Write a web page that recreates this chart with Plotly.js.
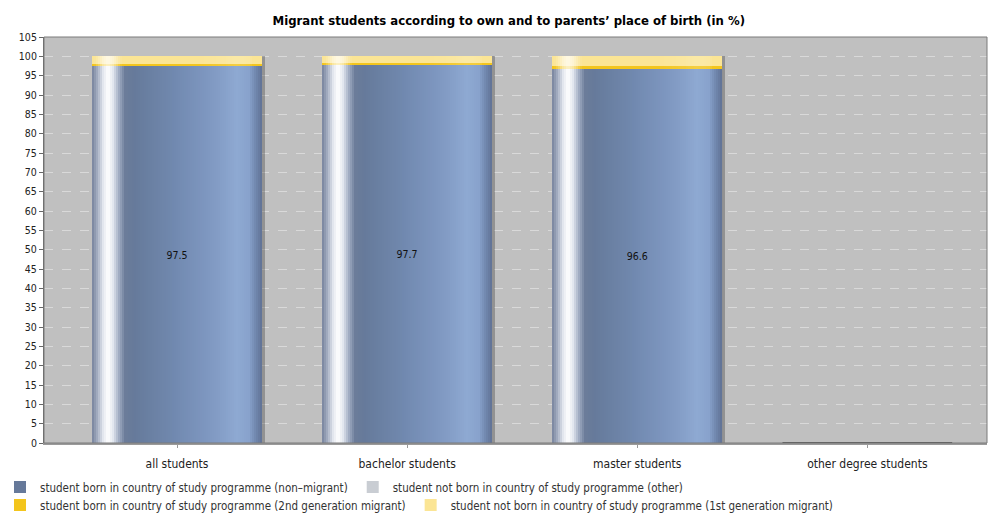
<!DOCTYPE html>
<html>
<head>
<meta charset="utf-8">
<script src="https://cdn.plot.ly/plotly-3.0.1.min.js"></script>
<style>html,body{margin:0;padding:0;background:#fff;}#chart{width:988px;height:513px;}</style>
</head>
<body>
<div id="chart"></div>
<script>
// ---- data ----
const categories = ['all students', 'bachelor students', 'master students', 'other degree students'];
const nonMigrant = [97.5, 97.7, 96.6, 0];
const otherNotBorn = [0.1, 0.1, 0.2, 0];
const secondGen = [0.4, 0.4, 0.7, 0];
const firstGen = [2.0, 1.8, 2.5, 0];
const seriesNames = [
  'student born in country of study programme (non–migrant)',
  'student not born in country of study programme (other)',
  'student born in country of study programme (2nd generation migrant)',
  'student not born in country of study programme (1st generation migrant)'
];
const yTicks = [0,5,10,15,20,25,30,35,40,45,50,55,60,65,70,75,80,85,90,95,100,105];

// ---- styling ----
const FONT = 'DejaVu Sans Condensed, DejaVu Sans, sans-serif';
const BW = 0.7375;          // bar width in category units
const OFF = -BW / 2;
const PX = BW / 170;        // one pixel of bar width in category units

const sum = (...arrs) => arrs[0].map((_, i) => arrs.reduce((s, a) => s + a[i], 0));
const base2 = sum(nonMigrant);
const base3 = sum(nonMigrant, otherNotBorn);
const base4 = sum(nonMigrant, otherNotBorn, secondGen);
const total = sum(nonMigrant, otherNotBorn, secondGen, firstGen);
const band = sum(otherNotBorn, secondGen, firstGen);

const traces = [];

// soft shadow to the right of each bar
traces.push({type:'bar', x:categories, y:total, base:0, width:BW, offset:OFF + 3*PX,
  marker:{color:'rgba(60,60,60,0.35)'}, showlegend:false, hoverinfo:'skip'});

// main series (legend + base colours)
traces.push({type:'bar', name:seriesNames[0], legend:'legend', x:categories, y:nonMigrant, base:0, width:BW, offset:OFF,
  marker:{color:'#66799a', line:{color:'#505050', width:nonMigrant.map(v => v === 0 ? 2 : 0)}}, hoverinfo:'skip'});
traces.push({type:'bar', name:seriesNames[1], legend:'legend', x:categories, y:otherNotBorn, base:base2, width:BW, offset:OFF,
  marker:{color:'#c9cdd3'}, hoverinfo:'skip'});
traces.push({type:'bar', name:seriesNames[2], legend:'legend2', x:categories, y:secondGen, base:base3, width:BW, offset:OFF,
  marker:{color:'#f3c51c'}, hoverinfo:'skip'});
traces.push({type:'bar', name:seriesNames[3], legend:'legend2', x:categories, y:firstGen, base:base4, width:BW, offset:OFF,
  marker:{color:'#fbe595'}, hoverinfo:'skip'});

// cylindrical shading of the non-migrant segment (colour stops across bar width, in px)
const stops = [
  [0,  [118,130,156]], [5, [160,170,190]], [11, [226,230,238]], [16, [255,255,255]],
  [21, [226,231,239]], [27, [160,172,194]], [33, [108,124,154]], [42, [102,122,154]],
  [80, [112,136,174]], [120, [128,153,194]], [145, [142,169,210]], [157, [136,162,204]],
  [164, [112,134,173]], [170, [96,114,148]]
];
function colAt(p){
  for (let i = 0; i < stops.length - 1; i++){
    const [a, ca] = stops[i], [b, cb] = stops[i+1];
    if (p >= a && p <= b){
      const t = (p - a) / (b - a);
      return ca.map((c, k) => Math.round(c + (cb[k] - c) * t));
    }
  }
  return stops[stops.length-1][1];
}
const STEP = 2;
for (let p = 0; p < 170; p += STEP){
  const c = colAt(p + STEP/2);
  traces.push({type:'bar', x:categories, y:nonMigrant, base:0, width:STEP*PX + 0.0005, offset:OFF + p*PX,
    marker:{color:`rgb(${c[0]},${c[1]},${c[2]})`, line:{width:0}}, showlegend:false, hoverinfo:'skip'});
  // highlight on the yellow band
  const w = (c[0] + c[1] + c[2]) / 3;
  const alpha = Math.max(0, (w - 150) / 105) * 0.75;
  if (alpha > 0.02){
    traces.push({type:'bar', x:categories, y:band, base:base2, width:STEP*PX + 0.0005, offset:OFF + p*PX,
      marker:{color:`rgba(255,255,255,${alpha.toFixed(2)})`, line:{width:0}}, showlegend:false, hoverinfo:'skip'});
  }
}

// value labels
traces.push({type:'bar', x:categories, y:nonMigrant, base:0, width:BW, offset:OFF,
  marker:{color:'rgba(0,0,0,0)'}, showlegend:false, hoverinfo:'skip',
  text:nonMigrant.map(v => v > 0 ? v.toFixed(1) : ''), textposition:'inside', insidetextanchor:'middle',
  textangle:0, textfont:{family:FONT, size:10.5, color:'#111'}, constraintext:'none'});

const legendCommon = {orientation:'h', xref:'container', yref:'container', x:0, xanchor:'left', yanchor:'middle',
  font:{family:FONT, size:11.5, color:'#333'}, itemwidth:30, bgcolor:'rgba(0,0,0,0)', borderwidth:0};

const layout = {
  width: 988, height: 513,
  paper_bgcolor: '#ffffff', plot_bgcolor: '#c0c0c0',
  margin: {l:44, r:1, t:37, b:70},
  barmode: 'overlay',
  bargap: 0,
  title: {text:'Migrant students according to own and to parents\u2019 place of birth (in %)',
    font:{family:FONT, size:13, color:'#000', weight:'bold'}, xref:'container', x:0.515, xanchor:'center',
    yref:'container', y:0.961, yanchor:'middle'},
  xaxis: {type:'category', range:[-0.578, 3.52], showgrid:false, zeroline:false,
    ticks:'outside', ticklen:3, tickcolor:'#999', showline:true, linecolor:'#9a9a9a', linewidth:2,
    ticklabelstandoff:6,
    tickfont:{family:FONT, size:12, color:'#222'}, fixedrange:true},
  yaxis: {range:[0,105], tickvals:yTicks, ticktext:yTicks.map(String), showgrid:true,
    gridcolor:'rgba(255,255,255,0.4)', griddash:'dash', gridwidth:1, zeroline:false,
    ticks:'outside', ticklen:4, tickcolor:'#666', showline:true, linecolor:'#666', linewidth:1,
    tickfont:{family:FONT, size:10.5, color:'#222'}, fixedrange:true},
  legend: Object.assign({}, legendCommon, {y:1 - 487/513}),
  legend2: Object.assign({}, legendCommon, {y:1 - 505/513}),
  shapes: [
    {type:'rect', xref:'paper', yref:'paper', x0:0, x1:1, y0:0, y1:1, line:{color:'#7a7a7a', width:1}, fillcolor:'rgba(0,0,0,0)'}
  ]
};

Plotly.newPlot('chart', traces, layout, {staticPlot:true, displayModeBar:false});
</script>
</body>
</html>
